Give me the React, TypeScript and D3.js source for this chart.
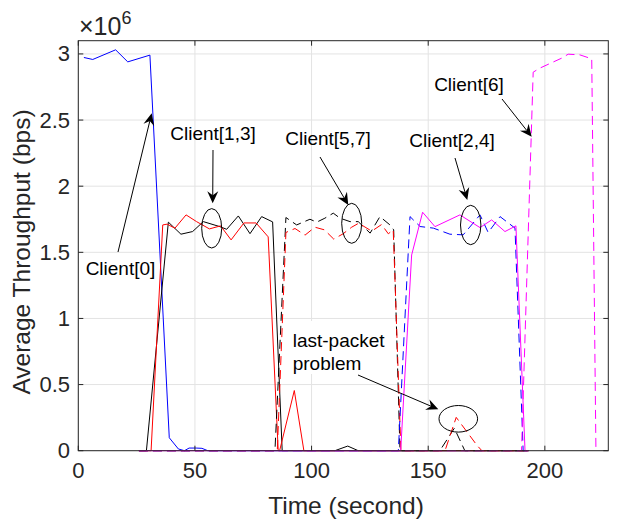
import React from "react";
import * as d3 from "d3";

// ---- data (throughput in units of 1e6 bps) ----
const client0T = [2.4, 6.2, 16.0, 21.2, 30.7, 39.0, 42.9, 45.5, 47.5, 50.5, 53, 55.5, 193];
const client0V = [2.973, 2.958, 3.031, 2.94, 2.991, 0.098, 0.013, 0.0, 0.02, 0.02, 0.018, 0.0, 0.0];

const client1T = [26, 29.2, 38.6, 44.0, 49.0, 53.6, 60.7, 63.6, 68.6, 73.6, 78.6, 83.3, 87.4, 110, 115.5, 120, 193];
const client1V = [0, 0, 1.728, 1.637, 1.657, 1.732, 1.694, 1.674, 1.775, 1.641, 1.77, 1.73, 0, 0, 0.035, 0, 0];

const client3T = [26, 31.2, 36.2, 38.1, 41.4, 46.2, 50.7, 56.2, 61.0, 65.5, 71.0, 76.2, 81.4, 85.7, 86.3, 92.6, 96.7, 193];
const client3V = [0, 0, 1.707, 1.713, 1.682, 1.783, 1.732, 1.677, 1.7, 1.594, 1.722, 1.722, 1.617, 0, 0, 0.455, 0, 0];

const client5T = [26, 84.3, 89.0, 93.6, 99.3, 102.2, 105.7, 109.3, 112.2, 116.5, 120.0, 125.1, 129.3, 133.6, 135.2, 137.9, 155, 161.2, 165.7, 193];
const client5V = [0, 0, 1.763, 1.707, 1.75, 1.728, 1.758, 1.796, 1.758, 1.732, 1.732, 1.645, 1.77, 1.707, 1.67, 0, 0, 0.17, 0, 0];

const client7T = [26, 85.3, 89.0, 92.9, 97.2, 101.4, 105.5, 109.5, 113.5, 117.2, 120.2, 125.8, 130.0, 132.9, 135.0, 138.3, 157.2, 162.0, 170.8, 173, 193];
const client7V = [0, 0, 1.65, 1.68, 1.63, 1.69, 1.67, 1.6, 1.64, 1.69, 1.72, 1.66, 1.71, 1.64, 1.67, 0, 0, 0.252, 0.043, 0, 0];

const client2T = [26, 137.2, 142.2, 146.5, 152.2, 159.3, 165.0, 172.2, 175.7, 180.8, 187.2, 190.7, 193];
const client2V = [0, 0, 1.77, 1.695, 1.683, 1.637, 1.632, 1.783, 1.65, 1.77, 1.683, 0, 0];

const client4T = [26, 138.2, 142.9, 147.6, 152.9, 163.6, 172.2, 177.2, 182.9, 187.6, 191.5, 193];
const client4V = [0, 0, 1.48, 1.803, 1.694, 1.783, 1.687, 1.745, 1.657, 1.7, 0, 0];

const client6T = [26, 190.0, 195.0, 197.9, 207.2, 210.0, 215.0, 220.1, 221.9];
const client6V = [0, 0, 2.862, 2.893, 2.968, 2.998, 2.993, 2.963, 0];

const xTicks = [0, 50, 100, 150, 200];
const yTicks = [0, 0.5, 1, 1.5, 2, 2.5, 3];
const yTickLabels = ["0", "0.5", "1", "1.5", "2", "2.5", "3"];

const seriesList = [
  { t: client0T, v: client0V, color: "#0000ff", dash: "" },
  { t: client1T, v: client1V, color: "#000000", dash: "" },
  { t: client3T, v: client3V, color: "#ff0000", dash: "" },
  { t: client5T, v: client5V, color: "#000000", dash: "9,5" },
  { t: client7T, v: client7V, color: "#ff0000", dash: "9,5" },
  { t: client2T, v: client2V, color: "#0000ff", dash: "9,5" },
  { t: client4T, v: client4V, color: "#ff00ff", dash: "" },
  { t: client6T, v: client6V, color: "#ff00ff", dash: "9,5" },
];

const FONT = "'Liberation Sans', Arial, Helvetica, sans-serif";

const L = 78.3, R = 608.3, T = 40.7, B = 450.7;

function Arrow({ x1, y1, x2, y2 }: { x1: number; y1: number; x2: number; y2: number }) {
  const ang = Math.atan2(y2 - y1, x2 - x1);
  const len = 12, w = 5.5, notch = 8;
  const ux = Math.cos(ang), uy = Math.sin(ang);
  const px = -uy, py = ux;
  const bx = x2 - ux * len, by = y2 - uy * len;
  const nx = x2 - ux * notch, ny = y2 - uy * notch;
  const d = `M${x2},${y2} L${bx + px * w},${by + py * w} L${nx},${ny} L${bx - px * w},${by - py * w} Z`;
  return (
    <g>
      <line x1={x1} y1={y1} x2={nx} y2={ny} stroke="#000" strokeWidth={1} />
      <path d={d} fill="#000" />
    </g>
  );
}

export default function App() {
  const x = d3.scaleLinear().domain([0, 227.2]).range([L, R]);
  const y = d3.scaleLinear().domain([0, 3.1]).range([B, T]);

  const lines = seriesList.map((s) => {
    const pts: [number, number][] = s.t.map((tt, i) => [tt, s.v[i]]);
    return d3
      .line<[number, number]>()
      .x((d) => x(d[0]))
      .y((d) => y(d[1]))(pts) as string;
  });

  const gridColor = "#e3e3e3";
  const axisColor = "#262626";

  return (
    <svg
      width={621}
      height={528}
      style={{ position: "absolute", left: 0, top: 0, background: "#fff" }}
      fontFamily={FONT}
    >
      <rect x={0} y={0} width={621} height={528} fill="#fff" />
      {/* grid */}
      {xTicks.map((t) => (
        <line key={"gx" + t} x1={x(t)} x2={x(t)} y1={T} y2={B} stroke={gridColor} strokeWidth={1} />
      ))}
      {yTicks.map((t) => (
        <line key={"gy" + t} x1={L} x2={R} y1={y(t)} y2={y(t)} stroke={gridColor} strokeWidth={1} />
      ))}

      {/* data */}
      {lines.map((d, i) => (
        <path
          key={"s" + i}
          d={d}
          fill="none"
          stroke={seriesList[i].color}
          strokeWidth={1}
          strokeDasharray={seriesList[i].dash || undefined}
        />
      ))}

      {/* box & ticks */}
      <rect x={L} y={T} width={R - L} height={B - T} fill="none" stroke={axisColor} strokeWidth={1} />
      {xTicks.map((t) => (
        <g key={"tx" + t}>
          <line x1={x(t)} x2={x(t)} y1={B} y2={B - 5} stroke={axisColor} />
          <line x1={x(t)} x2={x(t)} y1={T} y2={T + 5} stroke={axisColor} />
          <text x={x(t)} y={478} textAnchor="middle" fontSize={22} fill={axisColor}>
            {t}
          </text>
        </g>
      ))}
      {yTicks.map((t, i) => (
        <g key={"ty" + t}>
          <line x1={L} x2={L + 5} y1={y(t)} y2={y(t)} stroke={axisColor} />
          <line x1={R} x2={R - 5} y1={y(t)} y2={y(t)} stroke={axisColor} />
          <text x={70} y={y(t) + 7.5} textAnchor="end" fontSize={22} fill={axisColor}>
            {yTickLabels[i]}
          </text>
        </g>
      ))}

      {/* exponent */}
      <text x={79} y={35} fontSize={25} fill={axisColor}>
        ×10<tspan dy={-11} fontSize={18}>6</tspan>
      </text>

      {/* axis labels */}
      <text x={346} y={514} textAnchor="middle" fontSize={24.5} fill={axisColor}>
        Time (second)
      </text>
      <text
        transform={`translate(30,252) rotate(-90)`}
        textAnchor="middle"
        fontSize={24.5}
        fill={axisColor}
      >
        Average Throughput (bps)
      </text>

      {/* annotations */}
      <text x={120.5} y={275} textAnchor="middle" fontSize={19} fill="#000">Client[0]</text>
      <Arrow x1={118} y1={252} x2={151.7} y2={113.3} />

      <text x={213} y={140} textAnchor="middle" fontSize={19} fill="#000">Client[1,3]</text>
      <Arrow x1={213} y1={150} x2={212.7} y2={203.3} />
      <ellipse cx={211.7} cy={228.3} rx={10} ry={19.7} fill="none" stroke="#000" strokeWidth={1} />

      <text x={328} y={145} textAnchor="middle" fontSize={19} fill="#000">Client[5,7]</text>
      <Arrow x1={320} y1={157} x2={348.3} y2={205} />
      <ellipse cx={351.7} cy={223.3} rx={10} ry={20} fill="none" stroke="#000" strokeWidth={1} />

      <text x={452} y={147} textAnchor="middle" fontSize={19} fill="#000">Client[2,4]</text>
      <Arrow x1={455} y1={158} x2={467.3} y2={200} />
      <ellipse cx={470.7} cy={225} rx={10.2} ry={19.7} fill="none" stroke="#000" strokeWidth={1} />

      <text x={469} y={91} textAnchor="middle" fontSize={19} fill="#000">Client[6]</text>
      <Arrow x1={502} y1={99} x2={531.7} y2={136.7} />

      <rect x={288} y={321} width={105} height={53} fill="#fff" />
      <text x={292.7} y={346.5} fontSize={19} fill="#000">
        <tspan x={292.7}>last-packet</tspan>
        <tspan x={292.7} dy={23.5}>problem</tspan>
      </text>
      <Arrow x1={358} y1={375} x2={438.3} y2={409.3} />
      <ellipse cx={458.3} cy={418.8} rx={19.3} ry={13.3} fill="none" stroke="#000" strokeWidth={1} />
    </svg>
  );
}
